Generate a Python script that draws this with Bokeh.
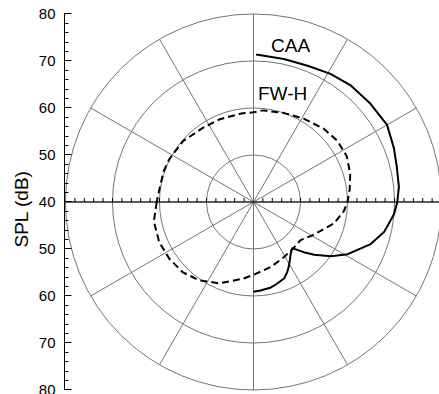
import numpy as np
from bokeh.plotting import figure
from bokeh.models import Range1d, FixedTicker, Title
from bokeh.core.properties import value
from bokeh.embed import file_html
from bokeh.resources import INLINE

# ---- data (SPL in dB versus polar angle in degrees) ----
caa_angle_deg = [89, 78, 68, 59, 50, 40, 30, 21, 14, 6, 0, -5, -13, -20, -29, -35,
                 -41, -45, -50, -54, -58, -61.5, -64.5, -68, -74, -79, -85.5, -90]
caa_spl = [71.4, 71.1, 71.2, 71.8, 72.3, 72.5, 72.8, 72.0, 71.4, 71.1, 70.6, 70.0,
           68.5, 66.4, 62.9, 60.1, 57.1, 55.1, 52.8, 53.5, 54.6, 55.7, 56.6, 57.5,
           58.1, 58.6, 58.9, 59.1]

fwh_angle_deg = [-180, -169, -157, -146, -135, -125, -113, -98, -90, -75, -61, -50,
                 -39, -30, -26, -15, -6, 0, 7, 16, 26, 36, 46, 59, 71, 84, 90, 98,
                 112, 124, 139, 153, 161, 172, 180]
fwh_spl = [60.6, 61.6, 61.8, 61.6, 61.2, 60.3, 58.8, 56.5, 55.5, 54.3, 53.4, 53.0,
           52.9, 54.3, 55.0, 57.7, 59.3, 60.0, 60.6, 61.4, 62.1, 62.1, 61.6, 60.7,
           60.0, 59.6, 59.1, 59.0, 59.0, 59.1, 59.8, 60.1, 60.2, 60.2, 60.6]

spl_min = 40.0                      # value at the centre of the polar plot
ring_spl = [50, 60, 70, 80]         # grid circles
spoke_angle_deg = list(range(0, 360, 30))
tick_values = [-40, -30, -20, -10, 0, 10, 20, 30, 40]
tick_labels = ["80", "70", "60", "50", "40", "50", "60", "70", "80"]
minor_step = 2
axis_title = "SPL (dB)"

series_labels = ["CAA", "FW-H"]
label_angle_deg = [76.7, 75.0]
label_spl = [74.3, 63.9]

# ---- helpers ----
def to_xy(ang_deg, spl):
    a = np.radians(np.asarray(ang_deg, dtype=float))
    r = np.asarray(spl, dtype=float) - spl_min
    return r * np.cos(a), r * np.sin(a)

rmax = max(ring_spl) - spl_min
px_per_unit = 4.7
grid_color = "#747474"

p = figure(width=439, height=394, output_backend="svg", toolbar_location=None,
           x_range=Range1d(-40.21, 39.57), y_range=Range1d(-40.96, 42.87),
           x_axis_type=None, y_axis_location="left",
           min_border_left=64, min_border_right=0, min_border_top=0, min_border_bottom=0)
p.grid.visible = False
p.outline_line_color = None
p.background_fill_color = "white"
p.border_fill_color = "white"

ax = p.yaxis[0]
ax.ticker = FixedTicker(ticks=tick_values,
                        minor_ticks=list(np.arange(-rmax, rmax + 0.1, minor_step)))
ax.major_label_overrides = {float(v): s for v, s in zip(tick_values, tick_labels)}
ax.bounds = (-rmax, rmax)
ax.axis_line_color = "black"
ax.major_tick_in = 7
ax.major_tick_out = 0
ax.minor_tick_in = 4
ax.minor_tick_out = 0
ax.major_tick_line_color = "black"
ax.minor_tick_line_color = "black"
ax.major_label_standoff = 9
ax.major_label_text_font = "Liberation Sans"
ax.major_label_text_font_size = "15px"
ax.major_label_text_color = "black"

# axis title in the left panel, started ~147 px above the bottom edge
p.add_layout(Title(text=axis_title, align="left", offset=147, vertical_align="middle",
                   standoff=6, text_font="Liberation Sans", text_font_size="19px",
                   text_font_style="normal", text_color="black"), "left")

# grid circles
ring_r = [s - spl_min for s in ring_spl]
p.circle(x=[0] * len(ring_r), y=[0] * len(ring_r), radius=ring_r,
         fill_color=None, line_color=grid_color, line_width=1)
# spokes
sa = np.radians(spoke_angle_deg)
p.segment(x0=np.zeros(len(sa)), y0=np.zeros(len(sa)),
          x1=rmax * np.cos(sa), y1=rmax * np.sin(sa),
          line_color=grid_color, line_width=1)

# horizontal axis through the centre with small ticks
p.segment(x0=[-rmax], y0=[0], x1=[rmax], y1=[0], line_color="black", line_width=1)
hx = np.array([v for v in np.arange(-rmax + minor_step, rmax + 0.1, minor_step) if abs(v) > 1e-9])
p.segment(x0=hx, y0=np.zeros(len(hx)), x1=hx, y1=np.full(len(hx), 4 / px_per_unit),
          line_color="black", line_width=1)

# curves
fx, fy = to_xy(fwh_angle_deg, fwh_spl)
p.line(fx, fy, line_color="black", line_width=2, line_dash="7 4")
cx, cy = to_xy(caa_angle_deg, caa_spl)
p.line(cx, cy, line_color="black", line_width=2)

lx, ly = to_xy(label_angle_deg, label_spl)
p.text(x=lx, y=ly, text=series_labels, text_font=value("Liberation Sans"),
       text_font_size="19px", text_align="center", text_baseline="alphabetic",
       text_color="black")

open("out.html", "w").write(file_html(p, INLINE))
